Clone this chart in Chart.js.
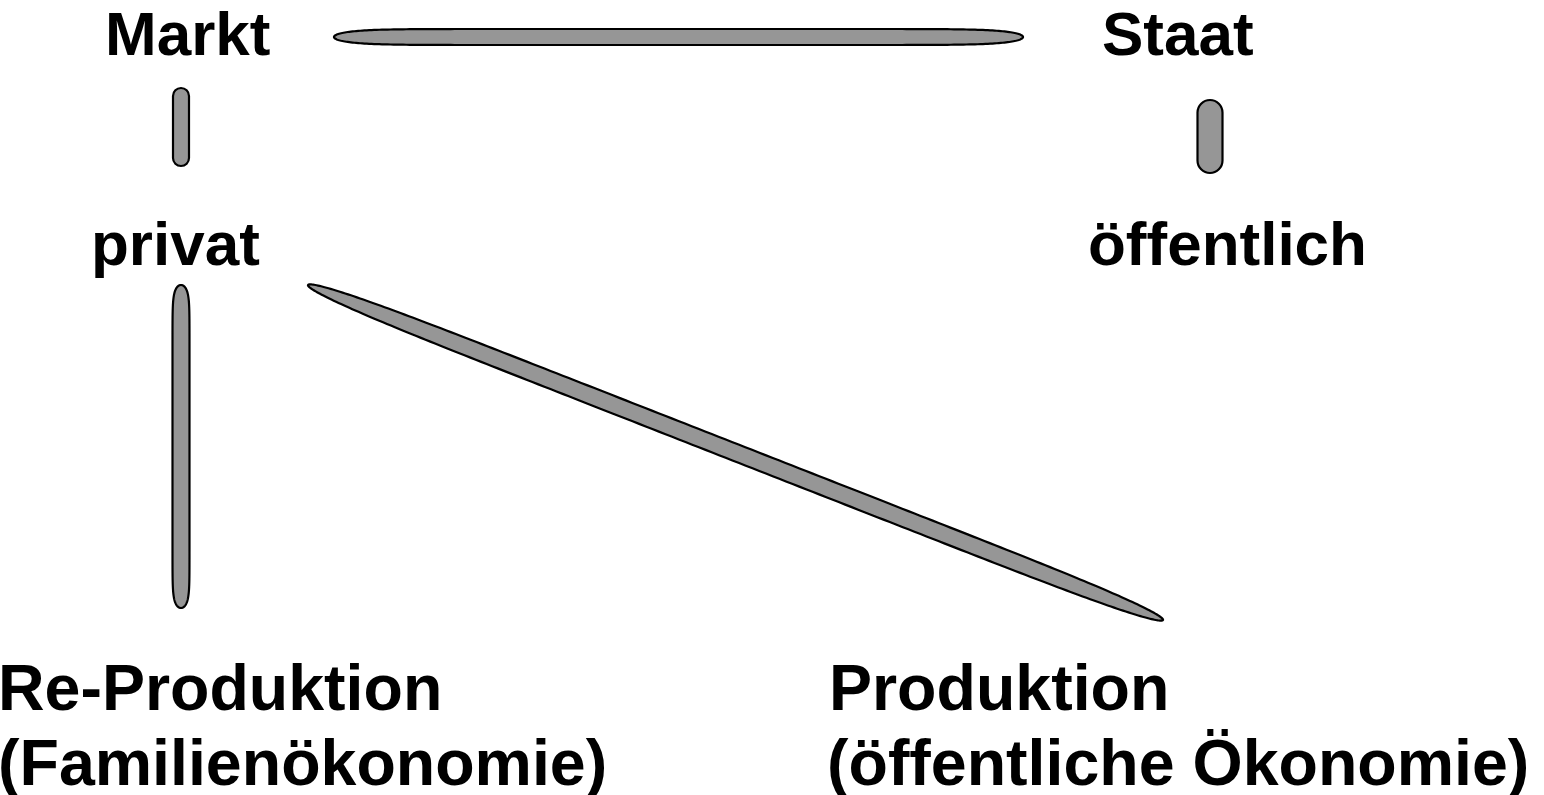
<!DOCTYPE html>
<html>
<head>
<meta charset="utf-8">
<script src="https://cdn.jsdelivr.net/npm/chart.js@4/dist/chart.umd.min.js"></script>
<style>
  html, body { margin: 0; padding: 0; background: #ffffff; }
  #wrap { width: 1544px; height: 795px; }
</style>
</head>
<body>
<div id="wrap"><canvas id="diagramm" width="1544" height="795"></canvas></div>
<script>
// Begriffe (Knoten) und ihre Lage im Diagramm (Wertebereich 0..1544 / 0..795)
const begriffe = ['Markt', 'Staat', 'privat', 'öffentlich', 'Re-Produktion', '(Familienökonomie)', 'Produktion', '(öffentliche Ökonomie)'];
const begriffX = [105, 1102, 91, 1088, -2, -2, 829, 827];
const begriffY = [55, 55, 265, 265, 710, 785, 710, 785];

// Verbindungen: Start- und Endpunkt
const verbX0 = [334, 181, 1210, 181, 308];
const verbY0 = [37, 88, 100, 285, 285];
const verbX1 = [1023, 181, 1210, 181, 1163];
const verbY1 = [37, 166, 173, 608, 620];

// Darstellung der Verbindungen (Breite, Form)
const verbStil = [
    { breite: 16, form: 'linse', k: 12 },
    { breite: 16, form: 'kapsel' },
    { breite: 25, form: 'kapsel' },
    { breite: 17, form: 'linse', k: 18 },
    { breite: 17, form: 'linse', k: 7 }
];

// Schriftgrößen je Zeile
const schriftOben = 'bold 62px "Liberation Sans", Arial, sans-serif';
const schriftUnten = 'bold 64.5px "Liberation Sans", Arial, sans-serif';

// Form einer Verbindung als Pfad
function verbindungPfad(ctx, x0, y0, x1, y1, stil) {
    const dx = x1 - x0, dy = y1 - y0;
    const laenge = Math.sqrt(dx * dx + dy * dy);
    const a = laenge / 2, b = stil.breite / 2;
    ctx.save();
    ctx.translate((x0 + x1) / 2, (y0 + y1) / 2);
    ctx.rotate(Math.atan2(dy, dx));
    ctx.beginPath();
    if (stil.form === 'kapsel') {
        ctx.moveTo(-a + b, -b);
        ctx.lineTo(a - b, -b);
        ctx.arc(a - b, 0, b, -Math.PI / 2, Math.PI / 2);
        ctx.lineTo(-a + b, b);
        ctx.arc(-a + b, 0, b, Math.PI / 2, Math.PI * 1.5);
    } else {
        const k = stil.k;
        const schritte = 400;
        for (let i = 0; i <= schritte; i++) {
            const t = Math.PI * 2 * i / schritte;
            const x = a * Math.cos(t);
            const h = b * Math.sqrt(Math.max(0, 1 - Math.pow(Math.abs(x / a), k)));
            const y = Math.sin(t) >= 0 ? h : -h;
            if (i === 0) ctx.moveTo(x, y); else ctx.lineTo(x, y);
        }
    }
    ctx.closePath();
    ctx.restore();
}

const diagrammPlugin = {
    id: 'diagramm',
    afterDatasetsDraw(chart) {
        const ctx = chart.ctx;
        const sx = chart.scales.x, sy = chart.scales.y;

        // Verbindungen
        for (let i = 0; i < verbX0.length; i++) {
            verbindungPfad(ctx,
                sx.getPixelForValue(verbX0[i]), sy.getPixelForValue(verbY0[i]),
                sx.getPixelForValue(verbX1[i]), sy.getPixelForValue(verbY1[i]),
                verbStil[i]);
            ctx.fillStyle = '#969696';
            ctx.fill();
            ctx.lineWidth = 2.2;
            ctx.lineJoin = 'round';
            ctx.strokeStyle = '#000000';
            ctx.stroke();
        }

        // Begriffe
        ctx.save();
        ctx.fillStyle = '#000000';
        ctx.textAlign = 'left';
        ctx.textBaseline = 'alphabetic';
        for (let i = 0; i < begriffe.length; i++) {
            ctx.font = i < 4 ? schriftOben : schriftUnten;
            ctx.fillText(begriffe[i], sx.getPixelForValue(begriffX[i]), sy.getPixelForValue(begriffY[i]));
        }
        ctx.restore();
    }
};

new Chart(document.getElementById('diagramm'), {
    type: 'scatter',
    data: {
        datasets: [{
            data: begriffX.map((x, i) => ({ x: x, y: begriffY[i] })),
            pointRadius: 0,
            showLine: false
        }]
    },
    options: {
        responsive: false,
        animation: false,
        devicePixelRatio: 1,
        layout: { padding: 0 },
        plugins: {
            legend: { display: false },
            tooltip: { enabled: false }
        },
        scales: {
            x: { type: 'linear', min: 0, max: 1544, display: false },
            y: { type: 'linear', min: 0, max: 795, reverse: true, display: false }
        }
    },
    plugins: [diagrammPlugin]
});
</script>
</body>
</html>
